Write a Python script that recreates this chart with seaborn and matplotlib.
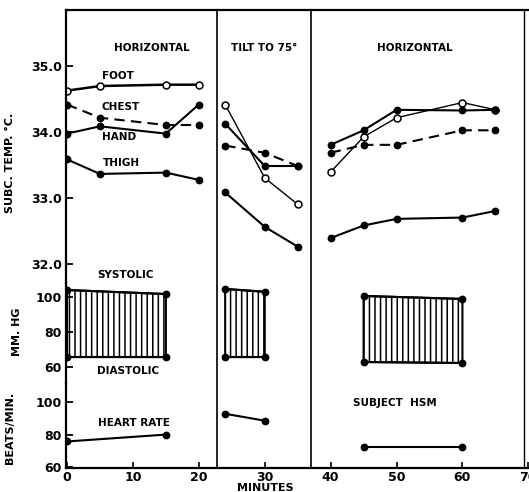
import seaborn as sns
from matplotlib import pyplot as plt
import numpy as np
import pandas as pd

sns.set_style("white")
plt.rcParams['font.family'] = ['DejaVu Sans']
plt.rcParams['font.weight'] = 'bold'
for k in ['text.color', 'axes.labelcolor', 'xtick.color', 'ytick.color']:
    plt.rcParams[k] = 'k'
plt.rcParams['hatch.linewidth'] = 1.1

# minutes for each phase
t_horiz = [0, 5, 15, 20]
t_tilt = [24, 30, 35]
t_recov = [40, 45, 50, 60, 65]

# subcutaneous temperatures (deg C)
foot_horiz = [34.62, 34.69, 34.71, 34.71]
chest_horiz = [34.41, 34.21, 34.10, 34.10]
hand_horiz = [33.97, 34.08, 33.97, 34.41]
thigh_horiz = [33.58, 33.36, 33.38, 33.27]

foot_tilt = [34.41, 33.30, 32.90]
chest_tilt = [33.79, 33.68, 33.48]
hand_tilt = [34.12, 33.48, 33.48]
thigh_tilt = [33.08, 32.56, 32.26]

foot_recov = [33.39, 33.92, 34.21, 34.44, 34.33]
chest_recov = [33.68, 33.80, 33.80, 34.02, 34.02]
hand_recov = [33.80, 34.02, 34.33, 34.32, 34.33]
thigh_recov = [32.39, 32.58, 32.68, 32.70, 32.80]

# blood pressure (mm Hg)
bp_t_horiz = [0, 15]
bp_t_tilt = [24, 30]
bp_t_recov = [45, 60]
sys_horiz = [104.0, 101.7]
dia_horiz = [65.7, 65.7]
sys_tilt = [104.6, 103.0]
dia_tilt = [65.7, 65.7]
sys_recov = [100.6, 98.9]
dia_recov = [62.9, 62.3]

# heart rate (beats/min)
hr_horiz = [75.8, 80.0]
hr_tilt = [92.7, 88.5]
hr_recov = [72.7, 72.7]

W, H = 529, 492
fig = plt.figure(figsize=(W / 100, H / 100), dpi=100)

def box(top, bottom):
    l = 66 / W
    return [l, 1 - bottom / H, 529 / W - l, (bottom - top) / H]

ax_t = fig.add_axes(box(10, 283))
ax_bp = fig.add_axes(box(283, 383))
ax_hr = fig.add_axes(box(383, 468))

for ax in (ax_t, ax_bp, ax_hr):
    ax.set_xlim(-0.15, 70.1)
    ax.set_facecolor('none')
    for s in ax.spines.values():
        s.set_visible(False)
        s.set_color('k')
        s.set_linewidth(1.6)
    ax.spines['left'].set_visible(True)
    ax.axvline(22.8, color='k', lw=1.2)
    ax.axvline(37.0, color='k', lw=1.2)
    ax.axvline(69.4, color='k', lw=1.0)
    ax.tick_params(axis='y', direction='in', length=5, width=1.3, pad=3,
                   labelsize=9, left=True)
    ax.set_xticks([])

ax_t.spines['top'].set_visible(True)
ax_hr.spines['bottom'].set_visible(True)

lw = 1.5
def curve(ax, t, v, open_mk=False, dashed=False, width=lw):
    sns.lineplot(x=t, y=v, ax=ax, color='k', lw=width, marker='o',
                 markersize=5 if open_mk else 4.5,
                 markerfacecolor='white' if open_mk else 'k',
                 markeredgecolor='k', markeredgewidth=1.1,
                 linestyle=(0, (5, 3)) if dashed else '-')

# temperatures
curve(ax_t, t_horiz, foot_horiz, open_mk=True, width=1.8)
curve(ax_t, t_horiz, chest_horiz, dashed=True)
curve(ax_t, t_horiz, hand_horiz)
curve(ax_t, t_horiz, thigh_horiz)

curve(ax_t, t_tilt, foot_tilt, open_mk=True, width=1.0)
curve(ax_t, t_tilt, chest_tilt, dashed=True)
curve(ax_t, t_tilt, hand_tilt)
curve(ax_t, t_tilt, thigh_tilt)

curve(ax_t, t_recov, foot_recov, open_mk=True, width=1.0)
curve(ax_t, t_recov, chest_recov, dashed=True)
curve(ax_t, t_recov, hand_recov)
curve(ax_t, t_recov, thigh_recov)

ax_t.set_ylim(31.71, 35.84)
ax_t.set_yticks([32, 33, 34, 35])
ax_t.set_yticklabels(['32.0', '33.0', '34.0', '35.0'])

# blood pressure boxes
for t, s, d in [(bp_t_horiz, sys_horiz, dia_horiz),
                (bp_t_tilt, sys_tilt, dia_tilt),
                (bp_t_recov, sys_recov, dia_recov)]:
    ax_bp.fill_between(t, d, s, facecolor='none', edgecolor='k',
                       hatch='|||', lw=1.5)
    curve(ax_bp, t, s)
    curve(ax_bp, t, d)
ax_bp.set_ylim(50.9, 108)
ax_bp.set_yticks([60, 80, 100])

# heart rate
curve(ax_hr, bp_t_horiz, hr_horiz)
curve(ax_hr, bp_t_tilt, hr_tilt)
curve(ax_hr, bp_t_recov, hr_recov)
ax_hr.set_ylim(59.6, 111.5)
ax_hr.set_yticks([60, 80, 100])
ax_hr.set_xticks(range(0, 71, 10))
ax_hr.tick_params(axis='x', direction='in', length=4, width=1.2,
                  labelsize=9, bottom=True, pad=2)
fig.text(265 / W, 1 - 483 / H, 'MINUTES', ha='center', va='top',
         fontsize=8, fontweight='bold')

# axis labels
ax_t.set_ylabel('SUBC. TEMP. °C.', fontsize=8, fontweight='bold')
ax_t.yaxis.set_label_coords(-0.11, 0.44)
ax_bp.set_ylabel('MM. HG', fontsize=8, fontweight='bold')
ax_bp.yaxis.set_label_coords(-0.095, 0.51)
ax_hr.set_ylabel('BEATS/MIN.', fontsize=8, fontweight='bold')
ax_hr.yaxis.set_label_coords(-0.11, 0.47)

txt = dict(fontsize=7.5, fontweight='bold', va='center')
ax_t.text(12.8, 35.26, 'HORIZONTAL', ha='center', **txt)
ax_t.text(29.9, 35.26, 'TILT TO 75°', ha='center', **txt)
ax_t.text(52.8, 35.26, 'HORIZONTAL', ha='center', **txt)
ax_t.text(5.3, 34.84, 'FOOT', ha='left', **txt)
ax_t.text(5.3, 34.37, 'CHEST', ha='left', **txt)
ax_t.text(5.3, 33.92, 'HAND', ha='left', **txt)
ax_t.text(5.4, 33.53, 'THIGH', ha='left', **txt)
ax_t.text(4.6, 31.83, 'SYSTOLIC', ha='left', **txt)
ax_bp.text(4.6, 57.7, 'DIASTOLIC', ha='left', **txt)
ax_hr.text(4.7, 87.3, 'HEART RATE', ha='left', **txt)
ax_hr.text(43.4, 99.4, 'SUBJECT  HSM', ha='left', **txt)

fig.savefig('out.png', dpi=100)
